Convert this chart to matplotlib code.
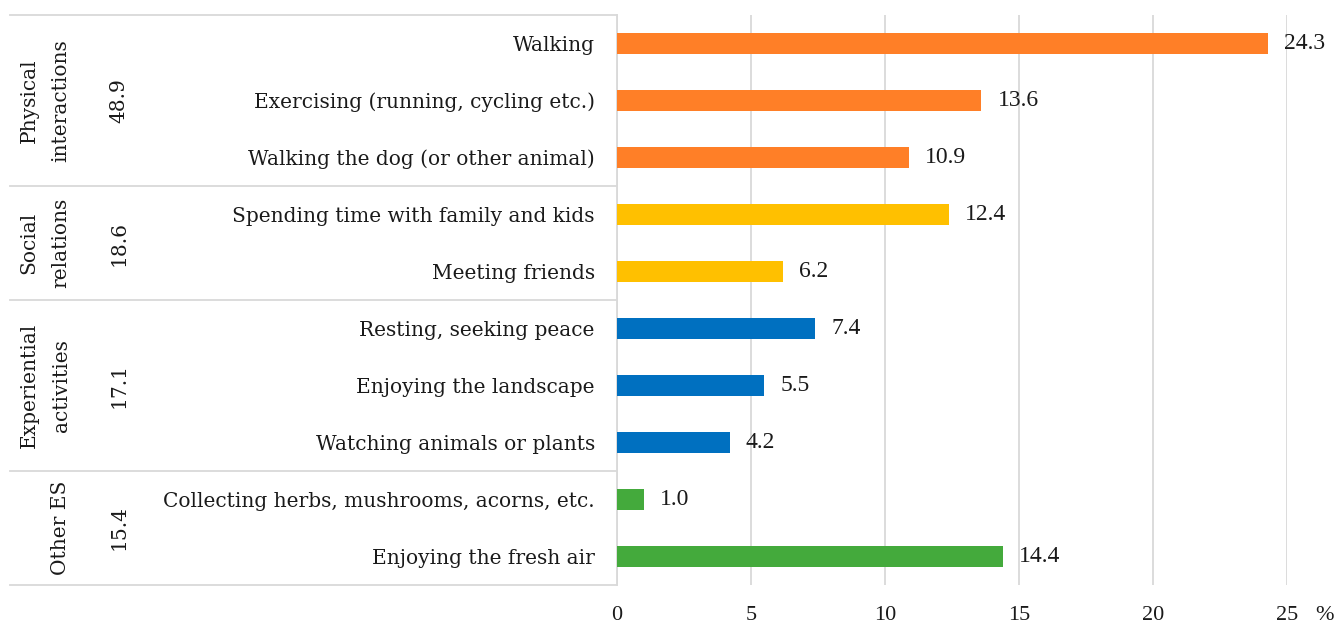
import matplotlib
matplotlib.use("Agg")
import matplotlib.pyplot as plt
from matplotlib.lines import Line2D

categories = [
    "Walking",
    "Exercising (running, cycling etc.)",
    "Walking the dog (or other animal)",
    "Spending time with family and kids",
    "Meeting friends",
    "Resting, seeking peace",
    "Enjoying the landscape",
    "Watching animals or plants",
    "Collecting herbs, mushrooms, acorns, etc.",
    "Enjoying the fresh air",
]
values = [24.3, 13.6, 10.9, 12.4, 6.2, 7.4, 5.5, 4.2, 1.0, 14.4]
group_names = [["Physical", "interactions"], ["Social", "relations"],
               ["Experiential", "activities"], ["", "Other ES"]]
group_totals = ["48.9", "18.6", "17.1", "15.4"]
group_sizes = [3, 2, 3, 2]
group_colors = ["#FF7F27", "#FFC000", "#0070C0", "#44AA3C"]
xticks = [0, 5, 10, 15, 20, 25]

TXT = "DejaVu Serif"
NUM = "Liberation Serif"
TC = "#1a1a1a"
FS = 14.5
plt.rcParams["font.family"] = NUM

W, H = 1339, 628
fig = plt.figure(figsize=(W / 100, H / 100), dpi=100)
left, right, top, bottom = 617, 1287, 15, 585
ax = fig.add_axes([left / W, 1 - bottom / H, (right - left) / W, (bottom - top) / H])

colors = []
for c, n in zip(group_colors, group_sizes):
    colors += [c] * n
ypos = list(range(len(categories)))
ax.barh(ypos, values, height=0.36, color=colors, zorder=3)
ax.set_ylim(len(categories) - 0.5, -0.5)
ax.set_xlim(0, 25)
ax.set_yticks(ypos)
ax.set_yticklabels(categories, fontsize=FS, color=TC, family=TXT)
ax.tick_params(axis="y", length=0, pad=16)
ax.set_xticks(xticks)
ax.set_xticklabels([str(t) for t in xticks], fontsize=16, color=TC)
ax.tick_params(axis="x", length=0, pad=15)
ax.xaxis.grid(True, color="#D9D9D9", linewidth=1.3, zorder=0)
for s in ["top", "right", "bottom"]:
    ax.spines[s].set_visible(False)
ax.spines["left"].set_color("#D9D9D9")
ax.spines["left"].set_linewidth(1.3)

for y, v in zip(ypos, values):
    ax.annotate(f"{v:.1f}", xy=(v, y), xytext=(11.5, 0), textcoords="offset points",
                va="center", ha="left", fontsize=17, color=TC)

ax.annotate("%", xy=(25, 0), xycoords=("data", "axes fraction"), xytext=(20, -15),
            textcoords="offset points", va="top", ha="left", fontsize=16, color=TC)

# table lines on the left
tr = ax.get_yaxis_transform()
x0 = (10 - left) / (right - left)
bounds = [-0.5]
acc = -0.5
for n in group_sizes:
    acc += n
    bounds.append(acc)
for b in bounds:
    ax.add_line(Line2D([x0, 0], [b, b], transform=tr, color="#D9D9D9", linewidth=1.3, clip_on=False))

xl1 = (29 - left) / (right - left)
xl2 = (61 - left) / (right - left)
xv = (119 - left) / (right - left)
for i, (names, tot) in enumerate(zip(group_names, group_totals)):
    yc = (bounds[i] + bounds[i + 1]) / 2
    if names[0]:
        ax.text(xl1, yc, names[0], transform=tr, rotation=90, ha="center", va="center",
                fontsize=FS, color=TC, family=TXT)
    ax.text(xl2, yc, names[1], transform=tr, rotation=90, ha="center", va="center",
            fontsize=FS, color=TC, family=TXT)
    ax.text(xv, yc, tot, transform=tr, rotation=90, ha="center", va="center",
            fontsize=FS, color=TC, family=TXT)

fig.savefig("out.png", dpi=100)
